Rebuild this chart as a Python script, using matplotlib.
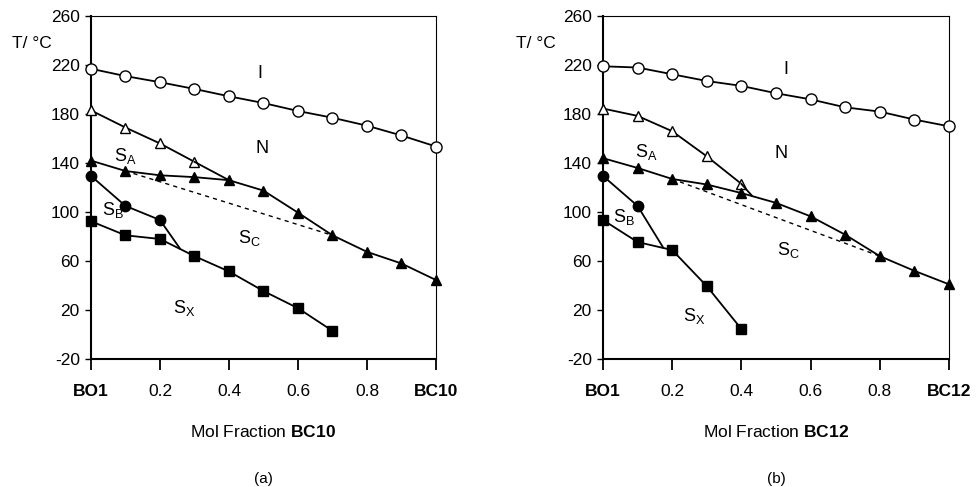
import matplotlib.pyplot as plt

plt.rcParams['font.family'] = ['Liberation Sans', 'DejaVu Sans']
plt.rcParams['mathtext.fontset'] = 'custom'
plt.rcParams['mathtext.rm'] = 'Liberation Sans'
plt.rcParams['mathtext.it'] = 'Liberation Sans'
plt.rcParams['mathtext.bf'] = 'Liberation Sans:bold'

# ---- (a) BO1 / BC10 ----
a_x = [0.0, 0.1, 0.2, 0.3, 0.4, 0.5, 0.6, 0.7, 0.8, 0.9, 1.0]
a_iso = [217, 211, 206, 200.5, 194.5, 189, 182.5, 177, 170.5, 162.5, 153.5]
a_na_x = [0.0, 0.1, 0.2, 0.3]
a_na = [183, 169, 156, 141]
a_na_end_x = [0.3, 0.4]
a_na_end = [141, 126]
a_sc = [142, 133.5, 130, 128.5, 126, 117.5, 99.5, 81, 67.5, 58, 44.5]
a_dash_x = [0.1, 0.7]
a_dash = [133.5, 81]
a_sb_x = [0.0, 0.1, 0.2]
a_sb = [129.5, 105, 93.5]
a_sb_end_x = [0.2, 0.258]
a_sb_end = [93.5, 70.2]
a_sx_x = [0.0, 0.1, 0.2, 0.3, 0.4, 0.5, 0.6, 0.7]
a_sx = [92.5, 81, 78, 64, 51.5, 35.5, 21.5, 3]

# ---- (b) BO1 / BC12 ----
b_x = [0.0, 0.1, 0.2, 0.3, 0.4, 0.5, 0.6, 0.7, 0.8, 0.9, 1.0]
b_iso = [219, 218, 212.5, 207, 203, 197, 192, 185.5, 182, 175.5, 170]
b_na_x = [0.0, 0.1, 0.2, 0.3, 0.4]
b_na = [184.5, 178.5, 166, 145.5, 123]
b_na_end_x = [0.4, 0.43]
b_na_end = [123, 113.5]
b_sc = [144, 136, 127, 122.5, 115.5, 107.5, 96.5, 81.5, 64, 52, 41]
b_dash_x = [0.2, 0.8]
b_dash = [127, 64]
b_sb_x = [0.0, 0.1]
b_sb = [129.5, 105]
b_sb_end_x = [0.1, 0.174]
b_sb_end = [105, 71]
b_sx_x = [0.0, 0.1, 0.2, 0.3, 0.4]
b_sx = [93.5, 75.5, 69, 39.5, 4.5]

tick_x = [0.0, 0.2, 0.4, 0.6, 0.8, 1.0]
tick_y = [-20, 20, 60, 100, 140, 180, 220, 260]


def draw_panel(ax, d, comp, labels, panel, tx):
    k = dict(color='black', lw=1.3, zorder=3, clip_on=False)
    ax.plot(d['x'], d['iso'], marker='o', ms=8, mfc='white', mec='black', mew=1.0, **k)
    ax.plot(d['na_x'], d['na'], marker='^', ms=7.5, mfc='white', mec='black', mew=1.0, **k)
    ax.plot(d['na_end_x'], d['na_end'], **k)
    ax.plot(d['x'], d['sc'], marker='^', ms=7.5, mfc='black', mec='black', **k)
    ax.plot(d['dash_x'], d['dash'], color='black', lw=1.0, ls=(0, (3, 3)), zorder=2)
    ax.plot(d['sb_x'], d['sb'], marker='o', ms=7.5, mfc='black', mec='black', **k)
    ax.plot(d['sb_end_x'], d['sb_end'], **k)
    ax.plot(d['sx_x'], d['sx'], marker='s', ms=7, mfc='black', mec='black', **k)

    for (lx, ly, txt) in labels:
        ax.text(lx, ly, txt, fontsize=13, ha='center', va='center', zorder=4)

    ax.set_xlim(0, 1)
    ax.set_ylim(-20, 260)
    ax.set_xticks(tick_x)
    ax.set_xticklabels(['BO1', '0.2', '0.4', '0.6', '0.8', comp], fontsize=12.5)
    for i in (0, 5):
        ax.get_xticklabels()[i].set_fontweight('bold')
    ax.set_yticks(tick_y)
    ax.set_yticklabels([str(v) for v in tick_y], fontsize=12.5)
    ax.tick_params(axis='x', direction='out', length=8, width=1.3, pad=10)
    ax.tick_params(axis='y', direction='out', length=4, width=1.0, pad=4)
    for s in ('left', 'bottom'):
        ax.spines[s].set_linewidth(1.5)
    for s in ('top', 'right'):
        ax.spines[s].set_linewidth(0.8)
    ax.set_xlabel('Mol Fraction $\\mathbf{' + comp + '}$', fontsize=12.5, labelpad=18)
    ax.text(tx, 0.921, 'T/ °C', transform=ax.transAxes, fontsize=12.5,
            ha='center', va='center')
    ax.text(0.5, -0.35, panel, transform=ax.transAxes, fontsize=11,
            ha='center', va='center')


fig = plt.figure(figsize=(9.76, 4.87), dpi=100)
ax1 = fig.add_axes([0.0932, 0.2628, 0.3535, 0.7042])
ax2 = fig.add_axes([0.6178, 0.2628, 0.3545, 0.7042])

draw_panel(ax1, dict(x=a_x, iso=a_iso, na_x=a_na_x, na=a_na, na_end_x=a_na_end_x,
                     na_end=a_na_end, sc=a_sc, dash_x=a_dash_x, dash=a_dash,
                     sb_x=a_sb_x, sb=a_sb, sb_end_x=a_sb_end_x, sb_end=a_sb_end,
                     sx_x=a_sx_x, sx=a_sx),
           'BC10',
           [(0.49, 213, 'I'), (0.495, 152, 'N'), (0.1, 146, '$\\mathregular{S_A}$'),
            (0.065, 102, '$\\mathregular{S_B}$'), (0.46, 79, '$\\mathregular{S_C}$'),
            (0.27, 22, '$\\mathregular{S_X}$')],
           '(a)', -0.17)

draw_panel(ax2, dict(x=b_x, iso=b_iso, na_x=b_na_x, na=b_na, na_end_x=b_na_end_x,
                     na_end=b_na_end, sc=b_sc, dash_x=b_dash_x, dash=b_dash,
                     sb_x=b_sb_x, sb=b_sb, sb_end_x=b_sb_end_x, sb_end=b_sb_end,
                     sx_x=b_sx_x, sx=b_sx),
           'BC12',
           [(0.53, 216, 'I'), (0.515, 148, 'N'), (0.125, 149, '$\\mathregular{S_A}$'),
            (0.06, 96, '$\\mathregular{S_B}$'), (0.535, 69, '$\\mathregular{S_C}$'),
            (0.265, 15, '$\\mathregular{S_X}$')],
           '(b)', -0.195)

fig.savefig('out.png', dpi=100)
